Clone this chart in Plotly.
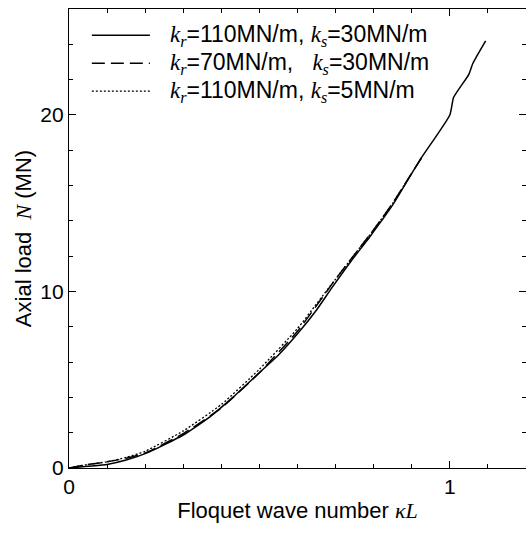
import plotly.graph_objects as go

# Solid: k_r=110, k_s=30
x_solid = [0, 0.05, 0.1, 0.15, 0.21, 0.3, 0.37, 0.43, 0.5, 0.55, 0.6, 0.65, 0.69, 0.74, 0.79,
           0.85, 0.92, 1.0, 1.01, 1.05, 1.06, 1.07, 1.094]
y_solid = [0, 0.1, 0.2, 0.45, 0.9, 1.87, 2.9, 4.0, 5.4, 6.4, 7.6, 8.95, 10.2, 11.7, 13.1,
           14.9, 17.4, 20.0, 21.0, 22.3, 22.9, 23.3, 24.2]

# Dashed: k_r=70, k_s=30
x_dash = [0, 0.05, 0.1, 0.15, 0.2, 0.3, 0.4, 0.5, 0.6, 0.65, 0.7, 0.75, 0.8, 0.85, 0.9, 0.93]
y_dash = [0, 0.2, 0.35, 0.55, 0.85, 1.95, 3.4, 5.4, 7.75, 9.2, 10.7, 12.1, 13.5, 15.0, 16.7, 17.7]

# Dotted: k_r=110, k_s=5
x_dot = [0, 0.05, 0.1, 0.15, 0.2, 0.3, 0.4, 0.5, 0.6, 0.65, 0.7, 0.75, 0.8, 0.85, 0.9]
y_dot = [0, 0.2, 0.35, 0.6, 0.95, 2.1, 3.6, 5.6, 7.9, 9.3, 10.7, 12.1, 13.5, 15.0, 16.7]

SERIF = "Liberation Serif, Times New Roman, serif"
KS = f"<span style='font-family:{SERIF}'><i>k</i></span>"
SR = f"<sub><span style='font-family:{SERIF}'><i>r</i></span></sub>"
SS = f"<sub><span style='font-family:{SERIF}'><i>s</i></span></sub>"
names = [
    KS + SR + "=110MN/m, " + KS + SS + "=30MN/m",
    KS + SR + "=70MN/m,&nbsp;&nbsp; " + KS + SS + "=30MN/m",
    KS + SR + "=110MN/m, " + KS + SS + "=5MN/m",
]
dashes = ["solid", "13px,6px", "2px,2px"]
widths = [1.5, 1.5, 1.3]
legend_rows = [0.943, 0.882, 0.821]

FONT = "Liberation Sans, Arial, Helvetica, sans-serif"
FS = 21
FT = 22
FL = 23

fig = go.Figure()
for xs, ys, nm, ds, w in zip([x_solid, x_dash, x_dot], [y_solid, y_dash, y_dot], names, dashes, widths):
    fig.add_trace(go.Scatter(x=xs, y=ys, mode="lines", name=nm, showlegend=False,
                             line=dict(color="black", width=w, dash=ds, shape="spline", smoothing=0.5)))

# legend drawn in paper coordinates
for nm, ds, w, yr in zip(names, dashes, widths, legend_rows):
    fig.add_shape(type="line", xref="paper", yref="paper", x0=0.050, x1=0.177, y0=yr, y1=yr,
                  line=dict(color="black", width=w, dash=ds))
    fig.add_annotation(xref="paper", yref="paper", x=0.216, y=yr, xanchor="left", yanchor="middle",
                       text=nm, showarrow=False, font=dict(size=FL, family=FONT, color="black"))

fig.update_layout(
    width=526, height=535,
    margin=dict(l=69, r=0, t=9, b=67),
    plot_bgcolor="white", paper_bgcolor="white",
    font=dict(family=FONT, size=FS, color="black"),
    showlegend=False,
    xaxis=dict(
        range=[0, 1.2], tickvals=[0, 1], ticktext=["0", "1"],
        ticks="inside", ticklen=7, tickwidth=1, tickcolor="black",
        minor=dict(dtick=0.1, ticks="inside", ticklen=4, tickcolor="black", showgrid=False),
        showline=True, linecolor="black", linewidth=1.2, mirror="ticks",
        showgrid=False, zeroline=False,
        tickfont=dict(size=FS),
        title=dict(text=f"Floquet wave number <i><span style='font-family:{SERIF}'>κL</span></i>",
                   font=dict(size=FT), standoff=5),
    ),
    yaxis=dict(
        range=[0, 26], tickvals=[0, 10, 20],
        ticks="inside", ticklen=7, tickwidth=1, tickcolor="black",
        minor=dict(dtick=2, ticks="inside", ticklen=4, tickcolor="black", showgrid=False),
        showline=True, linecolor="black", linewidth=1.2, mirror="ticks",
        showgrid=False, zeroline=False,
        tickfont=dict(size=FS),
        title=dict(text=f"Axial load&nbsp; <i><span style='font-family:{SERIF}'>N</span></i> (MN)",
                   font=dict(size=FT), standoff=2),
    ),
)

fig.write_html("out.html")
